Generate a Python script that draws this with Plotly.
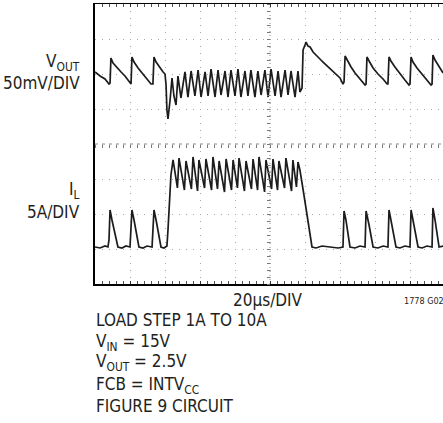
import plotly.graph_objects as go

# ---- Data ----
# time in microseconds (20 us/div), VOUT deviation in mV (50 mV/div), IL in A (5 A/div)
vout_t = [0, 2.9, 5.7, 8.0, 8.6, 9.1, 10.3, 12.6, 14.9, 17.1, 20.0, 20.6, 21.1, 22.3, 24.6, 26.9,
          29.7, 32.0, 33.1, 33.7, 34.9, 37.1, 38.9, 40.0, 40.6, 41.1, 41.7, 42.9, 44.0, 45.1, 46.3,
          47.4, 49.1, 51.4, 53.1, 54.9, 57.1, 58.9, 60.6, 62.9, 64.6, 66.3, 68.6, 70.3, 72.0, 74.3,
          76.0, 77.7, 80.0, 81.7, 83.4, 85.7, 87.4, 89.1, 91.4, 93.1, 94.9, 97.1, 98.9, 100.6,
          102.9, 104.6, 106.3, 108.6, 110.3, 112.0, 114.3, 116.0, 117.1, 118.3, 118.9, 120.0, 120.6,
          121.7, 122.9, 124.6, 126.3, 127.4, 129.1, 130.3, 132.0, 133.1, 134.9, 136.0, 137.7, 140.0,
          141.7, 142.3, 142.9, 144.0, 146.3, 148.6, 151.4, 154.3, 154.9, 155.4, 156.6, 158.9, 161.7,
          164.6, 166.9, 167.4, 168.0, 169.1, 171.4, 174.3, 177.1, 179.4, 180.0, 180.6, 181.7, 184.0,
          186.9, 189.7, 192.0, 192.6, 193.1, 194.3, 196.6, 198.9]
vout_mv = [2.9, -2.9, -7.1, -14.3, -12.9, 22.9, 15.7, 8.6, 2.9, -2.9, -12.9, -14.3, 24.3, 17.1, 8.6, 1.4,
           -5.7, -14.3, -14.3, 24.3, 17.1, 8.6, 2.9, 0, -15.7, -51.4, -64.3, -37.1, -5.7, -31.4, -44.3,
           -2.9, -34.3, 2.9, -32.9, 4.3, -31.4, 5.7, -32.9, 2.9, -31.4, 7.1, -32.9, 5.7, -30, 4.3,
           -32.9, 5.7, -31.4, 7.1, -32.9, 4.3, -31.4, 5.7, -32.9, 4.3, -30, 5.7, -32.9, 7.1,
           -31.4, 4.3, -32.9, 5.7, -30, 4.3, -32.9, 4.3, -25.7, -20, 34.3, 41.4, 45.7,
           40, 38.6, 31.4, 27.1, 22.9, 20, 17.1, 12.9, 10, 5.7, 2.9, 0, -5.7,
           -14.3, -11.4, 25.7, 20, 10, 1.4, -7.1, -15.7, -14.3, 24.3, 18.6, 8.6, 0,
           -7.1, -14.3, -14.3, 24.3, 18.6, 10, 0, -8.6, -15.7, -14.3, 24.3, 17.1, 8.6,
           0, -8.6, -15.7, -14.3, 27.1, 20, 11.4, 1.4]

il_t = [0, 2.9, 5.7, 7.4, 8.0, 8.6, 9.7, 10.9, 12.0, 13.1, 15.4, 17.7, 20.0, 20.6, 21.1, 22.3, 23.4,
        24.6, 25.1, 27.4, 29.7, 32.6, 33.1, 33.7, 34.9, 36.0, 37.1, 37.7, 39.4, 41.1, 41.7, 42.9, 43.4,
        44.6, 47.1, 48.0, 51.1, 52.0, 55.1, 56.0, 58.6, 59.4, 62.6, 63.4, 66.6, 67.4, 70.0, 70.9,
        74.0, 74.9, 78.0, 78.9, 81.4, 82.3, 85.4, 86.3, 89.4, 90.3, 92.9, 93.7, 96.9, 97.7, 100.9,
        101.7, 104.3, 105.1, 108.3, 109.1, 112.3, 113.1, 115.1, 116.0,
        117.1, 119.4, 121.7, 124.0, 126.3, 129.7, 134.3, 138.9, 141.7, 142.3, 143.4, 144.6, 145.7,
        148.6, 151.4, 154.3, 154.9, 156.6, 158.9, 161.7, 164.6, 167.4, 168.0, 169.1, 172.0, 174.3,
        177.1, 180.0, 180.6, 181.7, 184.6, 186.9, 189.7, 192.6, 193.1, 194.3, 196.6, 198.9]
il_a = [0, -0.14, 0.14, 0, 1.0, 5.29, 3.86, 2.43, 1.0, 0, -0.14, 0.14, 0, 3.14, 5.29, 3.86, 2.43,
        1.0, 0, -0.14, 0.14, 0, 3.14, 5.29, 3.86, 2.14, 0.71, 0, -0.14, 0.14, 2.43, 8.57, 10.29,
        12.43, 8.43, 12.71, 8.14, 12.29, 8.29, 12.86, 8.0, 12.43, 8.43, 12.57, 8.14, 12.86, 8.29, 12.29,
        7.86, 12.57, 8.14, 12.43, 8.43, 12.71, 8.0, 12.29, 8.29, 12.57, 8.14, 12.86, 7.86, 12.43, 8.29,
        12.57, 8.14, 12.29, 8.43, 12.71, 8.0, 12.43, 8.57, 12.14,
        11.0, 7.43, 3.57, 0, -0.14, 0.14, 0, -0.14, 0, 5.14, 3.86, 2.14, 0,
        -0.14, 0.14, 0, 5.14, 3.14, 0, -0.14, 0.14, 0, 5.29, 3.86, 0, -0.14,
        0.14, 0, 5.29, 3.86, 0, -0.14, 0.14, 0, 5.57, 3.86, 0, 0.14]

# ---- Layout geometry (pixels) ----
W, H = 443, 423
L, T, R, B = 95, 4, 0, 139
PW, PH = W - L - R, H - T - B


def px(x):
    return (x - L) / PW


def py(y):
    return (H - B - y) / PH


FONT = "Liberation Sans Narrow, Arial Narrow, DejaVu Sans Condensed, Roboto, sans-serif"
TXT = "#231f20"
TRACE = "#1c1c1c"
GRID = "#a8a8a8"

fig = go.Figure()
fig.add_trace(go.Scatter(x=vout_t, y=vout_mv, mode="lines",
                         line=dict(color=TRACE, width=1.7), xaxis="x", yaxis="y",
                         hoverinfo="skip", showlegend=False))
fig.add_trace(go.Scatter(x=il_t, y=il_a, mode="lines",
                         line=dict(color=TRACE, width=1.7), xaxis="x2", yaxis="y2",
                         hoverinfo="skip", showlegend=False))

xmax = 200 * PW / 350.0
fig.update_layout(
    width=W, height=H,
    margin=dict(l=L, r=R, t=T, b=B, pad=0),
    paper_bgcolor="white", plot_bgcolor="white",
    showlegend=False,
    xaxis=dict(range=[0, xmax], dtick=20, tick0=0, showgrid=True, gridcolor=GRID,
               griddash="1px,6px", gridwidth=1, zeroline=False, showticklabels=False,
               showline=True, linecolor="black", linewidth=1.5, mirror="allticks",
               ticks="inside", ticklen=3, tickcolor="#333", tickwidth=1,
               minor=dict(dtick=4, tick0=0, ticks="inside", ticklen=3, tickcolor="#555", showgrid=False),
               fixedrange=True),
    yaxis=dict(range=[-300, 100], dtick=50, tick0=0, showgrid=True, gridcolor=GRID,
               griddash="1px,6px", gridwidth=1, zeroline=False, showticklabels=False,
               showline=True, linecolor="black", linewidth=2, ticks="", fixedrange=True),
    xaxis2=dict(overlaying="x", matches="x", anchor="free", position=0.5, side="bottom",
                showgrid=False, zeroline=False, showline=False, showticklabels=False,
                ticks="outside", ticklen=3, dtick=4, tick0=0, tickcolor="#777", fixedrange=True),
    yaxis2=dict(overlaying="y", anchor="free", position=px(270), side="left",
                range=[-5.286, 34.714], showgrid=False, zeroline=False, showline=False,
                showticklabels=False, ticks="outside", ticklen=3, dtick=1, tick0=-0.286,
                tickcolor="#777", fixedrange=True),
    shapes=[
        dict(type="line", xref="paper", yref="paper", x0=0, x1=1, y0=0.5, y1=0.5,
             line=dict(color="#8a8a8a", width=1, dash="3px,4px"), layer="below"),
        dict(type="line", xref="paper", yref="paper", x0=px(270), x1=px(270), y0=0, y1=1,
             line=dict(color="#8a8a8a", width=1, dash="1px,3px"), layer="below"),
    ],
)

ann = []


def add(text, x, y, xanchor, size=17):
    ann.append(dict(text=text, x=px(x), y=py(y), xref="paper", yref="paper",
                    xanchor=xanchor, yanchor="middle", showarrow=False,
                    font=dict(family=FONT, size=size, color=TXT)))


add("V<sub>OUT</sub>", 82, 62, "right")
add("50mV/DIV", 82, 83, "right")
add("I<sub>L</sub>", 82, 190, "right")
add("5A/DIV", 82, 212, "right")
add("20μs/DIV", 268, 300, "center")
add("1778 G02", 402, 301, "left", size=9)
add("LOAD STEP 1A TO 10A", 94, 320, "left")
add("V<sub>IN</sub> = 15V", 94, 342, "left")
add("V<sub>OUT</sub> = 2.5V", 94, 363, "left")
add("FCB = INTV<sub>CC</sub>", 94, 385, "left")
add("FIGURE 9 CIRCUIT", 94, 406, "left")
fig.update_layout(annotations=ann)

fig.write_html("out.html",
               config={"displayModeBar": False, "staticPlot": True},
               post_script="document.body.style.margin='0';document.body.style.padding='0';"
                           "document.body.style.overflow='hidden';")
